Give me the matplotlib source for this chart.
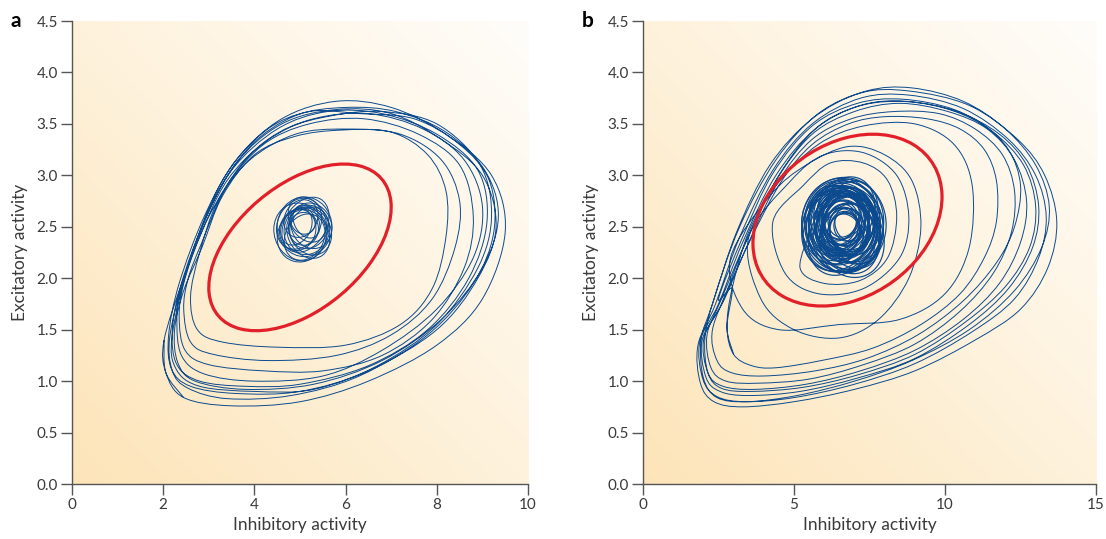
import numpy as np
import matplotlib.pyplot as plt
from matplotlib.path import Path
from matplotlib.patches import PathPatch, Ellipse
from matplotlib.colors import LinearSegmentedColormap

plt.rcParams['font.family'] = ['Lato', 'DejaVu Sans']

# ---- panel a: limit cycle loops (inhibitory, excitatory)
loops_a = [
    [(2.02,1.4),(2.06,1.08),(2.45,0.84),(3.5,0.76),(5.0,0.8),(6.5,1.0),(8.0,1.35),(9.0,1.8),(9.5,2.45),(9.2,3.0),(8.2,3.4),(7.0,3.66),(5.8,3.72),(4.6,3.55),(3.6,3.15),(2.9,2.6),(2.35,1.95)],
    [(2.12,1.45),(2.18,1.12),(2.6,0.95),(3.6,0.88),(5.0,0.9),(6.5,1.1),(8.0,1.5),(8.9,2.0),(9.3,2.5),(9.0,3.0),(8.1,3.35),(7.0,3.6),(5.8,3.64),(4.6,3.5),(3.6,3.12),(2.9,2.55),(2.4,1.95)],
    [(2.2,1.5),(2.3,1.16),(2.8,1.0),(3.8,0.95),(5.0,0.97),(6.5,1.15),(7.8,1.5),(8.7,2.0),(9.1,2.55),(8.9,3.05),(8.0,3.4),(6.8,3.6),(5.6,3.62),(4.5,3.45),(3.5,3.05),(2.85,2.5),(2.4,1.9)],
    [(2.3,1.6),(2.4,1.25),(2.9,1.07),(4.0,1.0),(5.5,1.05),(6.8,1.3),(8.0,1.7),(8.8,2.2),(9.0,2.7),(8.6,3.15),(7.7,3.45),(6.5,3.6),(5.3,3.55),(4.3,3.35),(3.4,2.95),(2.8,2.4),(2.45,1.95)],
    [(2.35,1.62),(2.48,1.3),(3.0,1.16),(4.2,1.1),(5.5,1.1),(6.8,1.25),(7.9,1.6),(8.6,2.1),(8.8,2.6),(8.5,3.1),(7.6,3.4),(6.4,3.55),(5.2,3.5),(4.2,3.3),(3.4,2.9),(2.85,2.35),(2.55,2.0)],
    [(2.45,1.7),(2.6,1.38),(3.1,1.26),(4.3,1.2),(5.8,1.25),(7.0,1.45),(7.9,1.8),(8.4,2.3),(8.5,2.75),(8.1,3.15),(7.2,3.4),(6.0,3.45),(4.9,3.4),(3.9,3.15),(3.2,2.75),(2.8,2.25)],
    [(2.6,1.82),(2.75,1.5),(3.3,1.38),(4.5,1.33),(6.0,1.35),(7.2,1.55),(7.9,1.9),(8.2,2.4),(8.2,2.85),(7.8,3.2),(7.0,3.42),(5.9,3.44),(4.9,3.38),(4.0,3.2),(3.3,2.8),(2.85,2.3),(2.45,1.88)],
    [(2.25,1.5),(2.32,1.18),(2.7,1.0),(3.8,0.92),(5.3,0.97),(6.8,1.2),(8.1,1.6),(9.0,2.1),(9.35,2.6),(9.05,3.05),(8.2,3.42),(7.1,3.62),(6.0,3.66),(4.9,3.58),(3.9,3.28),(3.1,2.75),(2.5,2.05)],
    [(2.15,1.45),(2.2,1.1),(2.55,0.93),(3.4,0.83),(4.8,0.86),(6.3,1.05),(7.8,1.45),(8.8,1.95),(9.25,2.45),(9.15,2.95),(8.5,3.3),(7.5,3.55),(6.3,3.6),(5.2,3.62),(4.2,3.42),(3.3,2.95),(2.6,2.2)],
    [(2.2,1.45),(2.28,1.12),(2.8,0.95),(4.0,0.9),(5.3,0.92),(6.7,1.15),(8.0,1.55),(8.9,2.1),(9.2,2.6),(8.95,3.1),(8.0,3.5),(6.8,3.62),(5.7,3.58),(4.7,3.45),(3.8,3.15),(3.0,2.6),(2.45,2.0)],
]

# panel a: small stable focus (tangle of little loops)
blob_a_x = [5.10,4.98,5.22,5.05,5.16,4.95,5.12,5.25,5.02,5.18,5.08,4.92,5.14,5.20,5.00,5.10,5.06,5.15]
blob_a_y = [2.50,2.53,2.46,2.42,2.57,2.47,2.52,2.51,2.58,2.43,2.48,2.50,2.55,2.49,2.45,2.40,2.56,2.47]
blob_a_w = [1.20,1.00,0.95,1.10,0.85,0.80,1.05,0.90,0.75,0.95,0.65,0.70,0.60,0.85,1.15,0.90,0.55,1.00]
blob_a_h = [0.58,0.48,0.46,0.52,0.42,0.40,0.50,0.44,0.36,0.46,0.32,0.34,0.30,0.40,0.56,0.44,0.26,0.48]
blob_a_ang = [0,8,-6,4,-10,3,12,-4,6,-8,0,10,-12,5,-3,7,-5,2]

# red ellipse a: centre, half extents, excitatory value at max inhibitory
ell_a = dict(cx=5.0, cy=2.3, ax=2.0, ay=0.81, y_at_xmax=2.69)

# ---- panel b
spiral_b = [
    [(5.6,2.5),(5.2,2.1),(6.0,1.95),(7.2,1.98),(8.1,2.2),(8.4,2.6),(8.1,2.95),(7.3,3.12),(6.2,3.12),(5.3,2.9)],
    [(4.3,2.55),(4.7,2.05),(5.8,1.85),(7.3,1.9),(8.5,2.2),(8.8,2.6),(8.4,3.0),(7.3,3.22),(6.0,3.2),(4.9,2.95)],
    [(3.5,2.4),(3.9,1.8),(5.0,1.5),(6.5,1.42),(7.8,1.6),(8.8,2.0),(9.2,2.5),(8.9,2.95),(8.0,3.2),(6.8,3.28),(5.4,3.1),(4.2,2.8)],
    [(2.9,2.2),(3.3,1.7),(4.5,1.5),(6.5,1.55),(8.5,1.6),(10.0,1.85),(10.8,2.3),(10.9,2.9),(10.3,3.3),(9.0,3.5),(7.3,3.48),(5.8,3.3),(4.4,2.9),(3.5,2.45)],
]
loops_b = [
    [(2.95,1.9),(2.78,1.52),(3.0,1.26),(3.6,1.15),(4.4,1.13),(5.9,1.2),(7.6,1.32),(9.2,1.55),(10.5,1.85),(11.3,2.2),(11.7,2.55),(11.7,2.95),(11.3,3.25),(10.5,3.45),(9.4,3.55),(8.0,3.57),(6.8,3.5),(5.6,3.3),(4.6,2.95),(3.6,2.4),(2.9,1.95)],
    [(2.3,1.5),(2.45,1.2),(2.95,1.08),(4.0,1.05),(5.7,1.1),(7.4,1.22),(9.1,1.45),(10.6,1.78),(11.7,2.15),(12.3,2.5),(12.5,2.9),(12.1,3.25),(11.2,3.5),(9.9,3.66),(8.4,3.72),(7.0,3.66),(5.7,3.45),(4.5,3.0),(3.4,2.35),(2.6,1.8)],
    [(2.12,1.45),(2.25,1.13),(2.75,1.0),(3.8,0.98),(5.5,1.02),(7.3,1.16),(9.0,1.36),(10.5,1.68),(11.6,2.05),(12.2,2.45),(12.3,2.85),(11.9,3.2),(11.0,3.45),(9.8,3.6),(8.3,3.62),(6.9,3.55),(5.6,3.35),(4.5,2.95),(3.5,2.35),(2.7,1.8)],
    [(2.02,1.42),(2.15,1.08),(2.65,0.95),(3.7,0.92),(5.4,0.97),(7.2,1.1),(9.0,1.3),(10.6,1.6),(11.8,1.95),(12.5,2.35),(12.7,2.75),(12.3,3.15),(11.4,3.45),(10.1,3.62),(8.5,3.7),(7.0,3.62),(5.6,3.4),(4.4,2.95),(3.4,2.35),(2.6,1.75)],
    [(1.96,1.4),(2.08,1.04),(2.55,0.9),(3.5,0.86),(5.2,0.9),(7.1,1.03),(9.0,1.22),(10.8,1.55),(12.1,1.9),(12.9,2.3),(13.1,2.7),(12.7,3.1),(11.8,3.4),(10.4,3.62),(8.7,3.72),(7.2,3.68),(5.7,3.45),(4.4,3.0),(3.3,2.35),(2.5,1.75)],
    [(1.88,1.38),(1.98,1.02),(2.45,0.85),(3.4,0.8),(5.0,0.84),(7.0,0.97),(9.0,1.17),(10.9,1.48),(12.3,1.8),(13.1,2.2),(13.35,2.6),(13.0,3.0),(12.1,3.35),(10.6,3.65),(8.8,3.78),(7.2,3.75),(5.6,3.5),(4.3,3.05),(3.2,2.4),(2.4,1.75)],
    [(1.82,1.35),(1.9,0.98),(2.35,0.8),(3.3,0.75),(5.0,0.8),(7.0,0.92),(9.0,1.1),(11.0,1.4),(12.5,1.7),(13.4,2.1),(13.7,2.55),(13.3,3.0),(12.4,3.35),(10.8,3.68),(8.8,3.82),(7.2,3.8),(5.6,3.55),(4.2,3.1),(3.1,2.45),(2.3,1.75)],
    [(1.92,1.4),(2.0,1.03),(2.45,0.84),(3.45,0.8),(5.1,0.86),(7.0,1.0),(8.9,1.2),(10.8,1.5),(12.3,1.88),(13.2,2.3),(13.45,2.7),(13.0,3.1),(12.0,3.45),(10.6,3.72),(8.9,3.85),(7.4,3.82),(5.8,3.6),(4.4,3.15),(3.2,2.5),(2.35,1.8)],
    [(2.05,1.42),(2.15,1.08),(2.6,0.93),(3.6,0.9),(5.3,0.94),(7.1,1.06),(9.0,1.26),(10.7,1.58),(12.0,1.92),(12.8,2.3),(13.0,2.7),(12.6,3.1),(11.6,3.42),(10.3,3.64),(8.6,3.74),(7.1,3.7),(5.6,3.48),(4.3,3.02),(3.3,2.4),(2.5,1.8)],
]

# panel b: dense focus, many overlapping small loops
blob_b_x = [6.65,6.50,6.80,6.58,6.74,6.45,6.88,6.62,6.70,6.55,6.82,6.60,6.68,6.52,6.76,6.64,6.72,6.48,6.85,6.58,
            6.66,6.78,6.54,6.70,6.62,6.90,6.46,6.74,6.60,6.68,6.56,6.80,6.64,6.72,6.50,6.84,6.62,6.70,6.58,6.66,
            6.52,6.76,6.60,6.70,6.48,6.82,6.64,6.56,6.74,6.62,6.68,6.54,6.78,6.60,6.66]
blob_b_y = [2.52,2.48,2.55,2.60,2.44,2.53,2.50,2.42,2.58,2.50,2.46,2.55,2.49,2.57,2.52,2.45,2.60,2.48,2.54,2.41,
            2.56,2.50,2.46,2.53,2.59,2.47,2.51,2.43,2.54,2.48,2.58,2.52,2.44,2.50,2.55,2.49,2.51,2.46,2.53,2.57,
            2.45,2.58,2.50,2.43,2.56,2.52,2.47,2.54,2.49,2.61,2.44,2.51,2.47,2.56,2.52]
blob_b_w = [2.80,2.40,2.30,2.20,2.50,2.10,2.00,2.30,1.90,2.60,2.10,1.80,2.40,1.70,2.20,1.60,1.90,2.00,1.80,1.50,
            1.40,1.70,1.30,1.60,1.20,1.50,1.40,1.10,1.30,1.00,1.20,0.90,1.10,0.80,2.50,2.00,2.70,1.60,2.20,1.40,
            2.35,2.05,1.85,2.15,1.95,1.75,2.45,1.65,1.55,1.35,2.25,1.05,1.25,0.95,2.60]
blob_b_h = [0.92,0.80,0.78,0.74,0.84,0.72,0.68,0.76,0.64,0.86,0.70,0.62,0.80,0.58,0.74,0.54,0.64,0.68,0.60,0.52,
            0.48,0.58,0.44,0.54,0.42,0.50,0.48,0.38,0.44,0.34,0.42,0.32,0.38,0.28,0.84,0.68,0.90,0.54,0.74,0.48,
            0.78,0.70,0.62,0.72,0.66,0.60,0.82,0.56,0.52,0.46,0.76,0.36,0.42,0.32,0.86]
blob_b_ang = [0,4,-3,6,-5,2,-7,5,-2,3,-6,7,-4,2,0,5,-3,4,-5,6,
              -2,3,0,-4,5,-1,3,-5,2,0,6,-4,3,-2,1,-6,2,4,-3,5,
              -4,6,-2,3,-5,4,-1,5,-3,2,-6,3,-4,1,-2]

ell_b = dict(cx=6.77, cy=2.565, ax=3.13, ay=0.835, y_at_xmax=2.79)

x_ticks_a = [0, 2, 4, 6, 8, 10]
x_ticks_b = [0, 5, 10, 15]
y_ticks = [0.0, 0.5, 1.0, 1.5, 2.0, 2.5, 3.0, 3.5, 4.0, 4.5]

blue = '#0b4a8e'
red = '#e2202a'


def smooth_path(points):
    # catmull-rom curve through the traced points, drawn as cubic beziers
    pts = np.asarray(points, dtype=float)
    pts = np.vstack([pts[0], pts, pts[-1]])
    verts = [pts[1]]
    codes = [Path.MOVETO]
    for i in range(1, len(pts) - 2):
        p0, p1, p2, p3 = pts[i - 1], pts[i], pts[i + 1], pts[i + 2]
        verts += [p1 + (p2 - p0) / 6, p2 - (p3 - p1) / 6, p2]
        codes += [Path.CURVE4] * 3
    return Path(verts, codes)


def tilted_ellipse(e):
    sin_d = (e['y_at_xmax'] - e['cy']) / e['ay']
    cov = np.array([[e['ax'] ** 2, e['ax'] * e['ay'] * sin_d],
                    [e['ax'] * e['ay'] * sin_d, e['ay'] ** 2]])
    vals, vecs = np.linalg.eigh(cov)
    angle = np.degrees(np.arctan2(vecs[1, 1], vecs[0, 1]))
    return Ellipse((e['cx'], e['cy']), 2 * np.sqrt(vals[1]), 2 * np.sqrt(vals[0]),
                   angle=angle, fill=False, edgecolor=red, lw=2.3, zorder=5)


bg = LinearSegmentedColormap.from_list('bg', ['#fde4b8', '#fef2dc', '#fffdfa'])


def setup(ax, xmax, xticks, letter):
    gx, gy = np.meshgrid(np.linspace(0, 1, 200), np.linspace(0, 1, 200))
    ax.imshow((gx + gy) / 2, origin='lower', extent=[0, xmax, 0, 4.5],
              cmap=bg, aspect='auto', zorder=0)
    ax.set_xlim(0, xmax)
    ax.set_ylim(0, 4.5)
    ax.set_xticks(xticks)
    ax.set_xticklabels([str(t) for t in xticks])
    ax.set_yticks(y_ticks)
    ax.set_yticklabels(['%.1f' % t for t in y_ticks])
    for s in ['top', 'right']:
        ax.spines[s].set_visible(False)
    for s in ['left', 'bottom']:
        ax.spines[s].set_color('#555555')
        ax.spines[s].set_linewidth(1.0)
    ax.tick_params(direction='out', length=8, width=1.0, color='#555555',
                   labelsize=11, labelcolor='#3a3a3a', pad=2)
    ax.set_xlabel('Inhibitory activity', fontsize=12.5, color='#3a3a3a', labelpad=4)
    ax.set_ylabel('Excitatory activity', fontsize=12.5, color='#3a3a3a', labelpad=6)
    ax.text(-0.135, 1.0, letter, transform=ax.transAxes, fontsize=15,
            fontweight='bold', va='center', ha='left')


fig = plt.figure(figsize=(11.06, 5.39), dpi=100)
ax_a = fig.add_axes([0.0651, 0.102, 0.4123, 0.859])
ax_b = fig.add_axes([0.5814, 0.102, 0.4096, 0.859])
setup(ax_a, 10, x_ticks_a, 'a')
setup(ax_b, 15, x_ticks_b, 'b')

# panel a
traj_a = [p for loop in loops_a for p in loop] + loops_a[0][:3]
ax_a.add_patch(PathPatch(smooth_path(traj_a), fill=False, edgecolor=blue, lw=0.7, zorder=3))
for x, y, w, h, a in zip(blob_a_x, blob_a_y, blob_a_w, blob_a_h, blob_a_ang):
    ax_a.add_patch(Ellipse((x, y), w, h, angle=a, fill=False, edgecolor=blue, lw=0.7, zorder=3))
ax_a.add_patch(tilted_ellipse(ell_a))

# panel b
for x, y, w, h, a in zip(blob_b_x, blob_b_y, blob_b_w, blob_b_h, blob_b_ang):
    ax_b.add_patch(Ellipse((x, y), w, h, angle=a, fill=False, edgecolor=blue, lw=0.85, zorder=3))
traj_b = [p for loop in spiral_b + loops_b for p in loop] + loops_b[0][:3]
ax_b.add_patch(PathPatch(smooth_path(traj_b), fill=False, edgecolor=blue, lw=0.7, zorder=3))
ax_b.add_patch(tilted_ellipse(ell_b))

fig.savefig('out.png', dpi=100)
